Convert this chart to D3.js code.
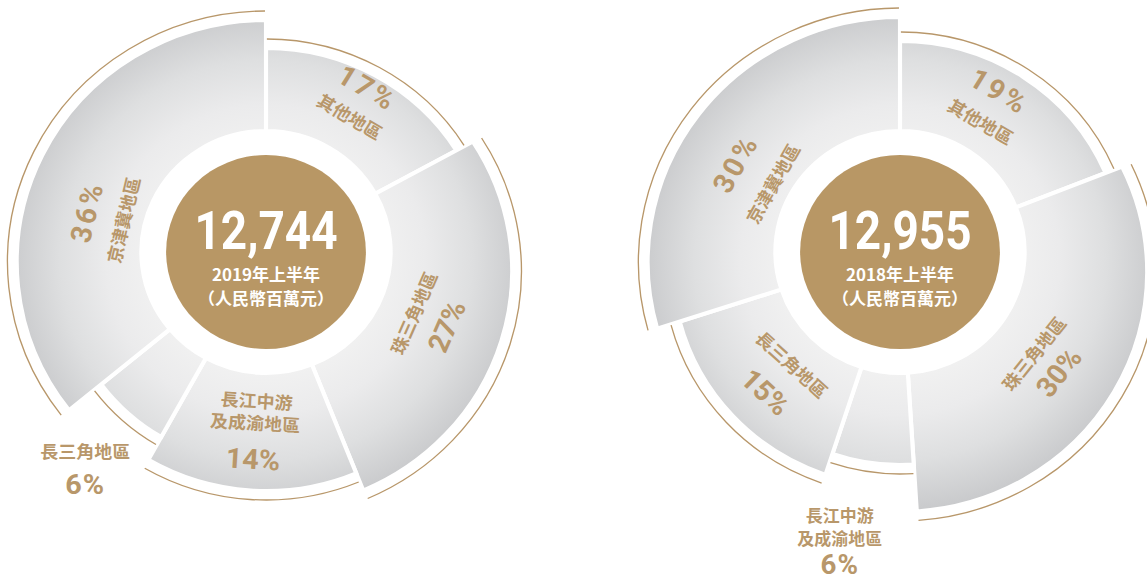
<!DOCTYPE html>
<html>
<head>
<meta charset="utf-8">
<script src="https://cdn.jsdelivr.net/npm/d3@7"></script>
<style>
  body { margin: 0; background: #fff; }
  svg { display: block; }
</style>
</head>
<body>
<svg id="chart" width="1147" height="583"></svg>
<script>
// Regions, listed clockwise from 12 o'clock
const regions = ['其他地區', '珠三角地區', '長江中游及成渝地區', '長三角地區', '京津冀地區'];
const regionLines = [['其他地區'], ['珠三角地區'], ['長江中游', '及成渝地區'], ['長三角地區'], ['京津冀地區']];

// Share of total (%) per region
const share2019 = [17, 27, 14, 6, 36];
const share2018 = [19, 30, 6, 15, 30];

// Totals shown in the hub (RMB million)
const totals = [12744, 12955];
const periods = ['2019年上半年', '2018年上半年'];
const unitLabel = '（人民幣百萬元）';

// Segment outline: outer radius and downward shift of the outer arc's centre
const outline2019 = [
  { R: 216, shift: 14 },
  { R: 237, shift: 19 },
  { R: 223, shift: 14 },
  { R: 197, shift: 14 },
  { R: 240, shift: 10 }
];
const outline2018 = [
  { R: 215, shift: 6 },
  { R: 238, shift: 20 },
  { R: 197, shift: 14 },
  { R: 219, shift: 14 },
  { R: 243, shift: 10 }
];

// Label placement per region: angle (deg clockwise from top), radii, orientation
const labelLayout2019 = [
  { angle: 31, orient: 'out', pctR: 191, nameR: [159] },
  { angle: 113, orient: 'in', pctR: 191, nameR: [155] },
  { angle: 183.5, orient: 'in', pctR: 208, nameR: [148, 170] },
  { angle: 221.3, orient: 'flat', r: 266, lh: 22, pctGap: 32, fs: 17.5, pfs: 28 },
  { angle: 283, orient: 'out', pctR: 178, nameR: [143] }
];
const labelLayout2018 = [
  { angle: 31, orient: 'out', pctR: 187, nameR: [153] },
  { angle: 128, orient: 'in', pctR: 196, nameR: [164] },
  { angle: 192.5, orient: 'flat', r: 270, lh: 23, pctGap: 25, fs: 16.5, pfs: 27 },
  { angle: 223, orient: 'in', pctR: 192, nameR: [153] },
  { angle: 299, orient: 'out', pctR: 182, nameR: [142] }
];

const charts = [
  { cx: 266, cy: 252, shares: share2019, outline: outline2019, total: totals[0], period: periods[0], layout: labelLayout2019 },
  { cx: 900, cy: 252, shares: share2018, outline: outline2018, total: totals[1], period: periods[1], layout: labelLayout2018 }
];

const gold = '#b8976a';
const STRETCH = 1.03;        // the artwork is slightly wider than tall
const innerR = 121;          // inner edge of the segments (before white outline)
const hubR = 97;             // gold disc
const haloGap = 9;           // thin gold arc sits just outside each segment
const cjk = '"Noto Sans CJK TC", "Noto Sans CJK SC", sans-serif';
const num = 'Roboto, "Noto Sans", sans-serif';

const pie = d3.pie().sort(null).value(d => d);

const svg = d3.select('#chart');
const defs = svg.append('defs');
const grad = defs.append('radialGradient')
  .attr('id', 'segFill')
  .attr('gradientUnits', 'userSpaceOnUse')
  .attr('cx', 0).attr('cy', 8).attr('r', 250);
[[0.45, '#f1f1f1'], [0.62, '#ebebec'], [0.8, '#dedfe0'], [1, '#c9cacc']]
  .forEach(([o, c]) => grad.append('stop').attr('offset', o).attr('stop-color', c));

function ray(theta, r) { return [r * Math.sin(theta), -r * Math.cos(theta)]; }
// distance along a ray from the hub centre to a circle of radius R centred at (0, s)
function hitOuter(theta, R, s) {
  const b = -Math.cos(theta) * s;
  return b + Math.sqrt(b * b - s * s + R * R);
}
function outerArc(p, a0, a1, R, s, move) {
  const [x0, y0] = ray(a0, hitOuter(a0, R, s));
  const [x1, y1] = ray(a1, hitOuter(a1, R, s));
  if (move) p.moveTo(x0, y0); else p.lineTo(x0, y0);
  p.arc(0, s, R, Math.atan2(y0 - s, x0), Math.atan2(y1 - s, x1), false);
}
function segmentPath(a0, a1, R, s) {
  const p = d3.path();
  const [sx, sy] = ray(a0, innerR);
  p.moveTo(sx, sy);
  outerArc(p, a0, a1, R, s, false);
  const [ex, ey] = ray(a1, innerR);
  p.lineTo(ex, ey);
  p.arc(0, 0, innerR, a1 - Math.PI / 2, a0 - Math.PI / 2, true);
  p.closePath();
  return p.toString();
}
function haloPath(a0, a1, R, s) {
  const p = d3.path();
  outerArc(p, a0, a1, R, s, true);
  return p.toString();
}
function polar(deg, r) {
  const a = deg * Math.PI / 180;
  return [r * Math.sin(a), -r * Math.cos(a)];
}

charts.forEach(ch => {
  const g = svg.append('g')
    .attr('transform', `translate(${ch.cx},${ch.cy}) scale(${STRETCH},1)`);
  const arcs = pie(ch.shares).map((d, i) => Object.assign(d, ch.outline[i]));

  g.selectAll('path.seg').data(arcs).join('path')
    .attr('class', 'seg')
    .attr('d', d => segmentPath(d.startAngle, d.endAngle, d.R + 2, d.shift))
    .attr('fill', 'url(#segFill)')
    .attr('stroke', '#fff')
    .attr('stroke-width', 4);

  g.selectAll('path.halo').data(arcs).join('path')
    .attr('class', 'halo')
    .attr('d', d => haloPath(d.startAngle + 0.004, d.endAngle - 0.004, d.R + 2 + haloGap, d.shift))
    .attr('fill', 'none')
    .attr('stroke', gold)
    .attr('stroke-width', 1.3);

  // hub
  g.append('circle').attr('r', hubR).attr('fill', '#b89765');
  g.append('text')
    .attr('y', -3)
    .attr('text-anchor', 'middle')
    .attr('font-family', num).attr('font-weight', 700).attr('font-size', 53)
    .attr('fill', '#fff')
    .attr('textLength', 139).attr('lengthAdjust', 'spacingAndGlyphs')
    .text(d3.format(',')(ch.total));
  g.append('text')
    .attr('y', 22).attr('dominant-baseline', 'central')
    .attr('text-anchor', 'middle')
    .attr('font-family', cjk).attr('font-weight', 700).attr('font-size', 16.5)
    .attr('fill', '#fff')
    .text(ch.period);
  g.append('text')
    .attr('y', 46).attr('dominant-baseline', 'central')
    .attr('text-anchor', 'middle')
    .attr('font-family', cjk).attr('font-weight', 700).attr('font-size', 16.5)
    .attr('fill', '#fff')
    .text(unitLabel);

  // region labels
  ch.layout.forEach((L, i) => {
    const pct = ch.shares[i] + '%';
    const names = regionLines[i];
    if (L.orient === 'flat') {
      // stacked block outside the ring: name line(s) then the share
      const [x, y] = polar(L.angle, L.r);
      const t = g.append('text')
        .attr('transform', `translate(${x},${y})`)
        .attr('text-anchor', 'middle')
        .attr('fill', gold).attr('font-weight', 700);
      names.forEach((n, k) => t.append('tspan')
        .attr('x', 0).attr('y', 6 + k * L.lh)
        .attr('font-family', cjk).attr('font-size', L.fs)
        .text(n));
      t.append('tspan')
        .attr('x', 0).attr('y', (names.length - 1) * L.lh + L.pctGap + 10)
        .attr('font-family', num).attr('font-size', L.pfs)
        .attr('letter-spacing', 1)
        .text(pct);
    } else {
      const rot = L.orient === 'out' ? (L.angle > 180 ? L.angle - 360 : L.angle) : L.angle - 180;
      const put = (txt, r, family, size, spacing) => {
        const [x, y] = polar(L.angle, r);
        g.append('text')
          .attr('transform', `translate(${x},${y}) rotate(${rot})`)
          .attr('dominant-baseline', 'central').attr('text-anchor', 'middle')
          .attr('font-family', family).attr('font-weight', 700).attr('font-size', size)
          .attr('letter-spacing', spacing)
          .attr('fill', gold).text(txt);
      };
      names.forEach((n, k) => put(n, L.nameR[k], cjk, 17.5, 0));
      put(pct, L.pctR, num, 28, L.orient === 'out' ? 3 : 0);
    }
  });
});
</script>
</body>
</html>
